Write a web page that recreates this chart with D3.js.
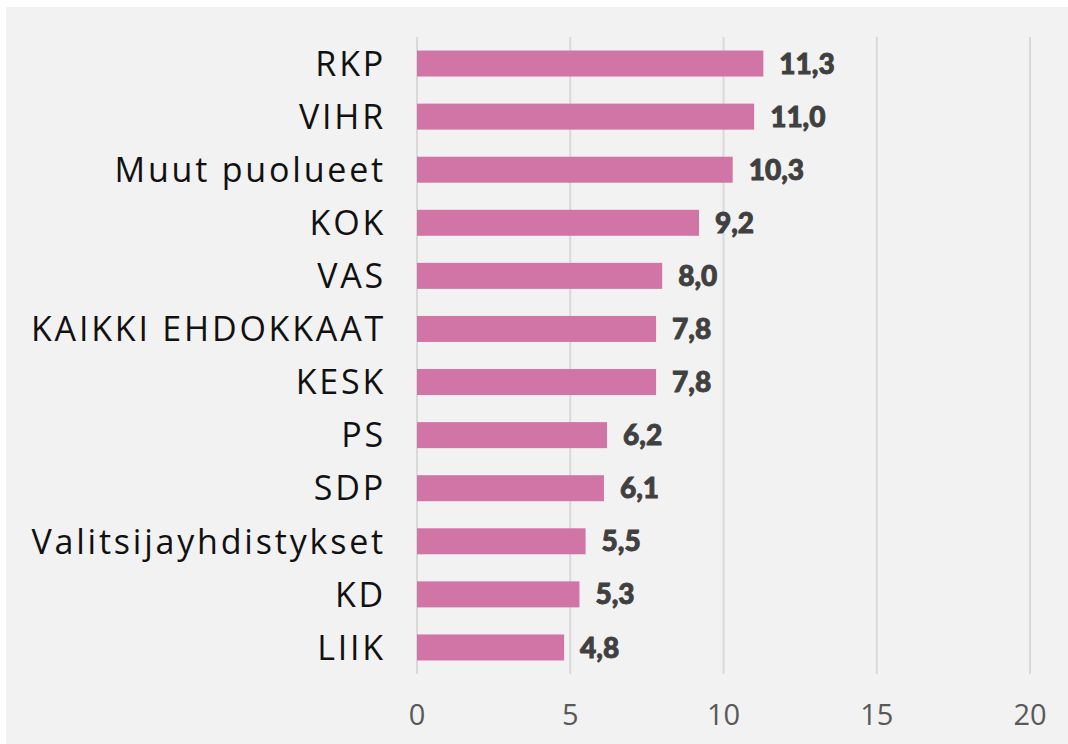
<!DOCTYPE html>
<html>
<head>
<meta charset="utf-8">
<script src="https://cdn.jsdelivr.net/npm/d3@7"></script>
<style>
  body { margin: 0; background: #ffffff; }
  svg { display: block; }
</style>
</head>
<body>
<svg width="1068" height="744"></svg>
<script>
// data
var parties = ["RKP", "VIHR", "Muut puolueet", "KOK", "VAS", "KAIKKI EHDOKKAAT", "KESK", "PS", "SDP", "Valitsijayhdistykset", "KD", "LIIK"];
var values = [11.3, 11.0, 10.3, 9.2, 8.0, 7.8, 7.8, 6.2, 6.1, 5.5, 5.3, 4.8];
var ticks = [0, 5, 10, 15, 20];

var svg = d3.select("svg"),
    width = +svg.attr("width"),
    height = +svg.attr("height");

// gray panel
svg.append("rect")
    .attr("x", 6).attr("y", 7)
    .attr("width", width - 6).attr("height", height - 7)
    .attr("fill", "#f2f2f2");

var x = d3.scaleLinear()
    .domain([0, 20])
    .range([417, 1030]);

var y = d3.scaleBand()
    .domain(parties)
    .range([37, 674])
    .paddingInner(0.51)
    .paddingOuter(0.255);

// gridlines
svg.append("g")
  .selectAll("line")
  .data(ticks)
  .enter()
  .append("line")
    .attr("x1", function(d){ return x(d) })
    .attr("x2", function(d){ return x(d) })
    .attr("y1", 37)
    .attr("y2", 674)
    .attr("stroke", "#d9d9d9")
    .attr("stroke-width", 2);

// bars
svg.append("g")
  .selectAll("rect")
  .data(values)
  .enter()
  .append("rect")
    .attr("x", x(0))
    .attr("y", function(d, i){ return y(parties[i]) })
    .attr("width", function(d){ return x(d) - x(0) })
    .attr("height", y.bandwidth())
    .attr("fill", "#d075a5");

// value labels
svg.append("g")
  .selectAll("text")
  .data(values)
  .enter()
  .append("text")
    .attr("x", function(d){ return x(d) + 16 })
    .attr("y", function(d, i){ return y(parties[i]) + y.bandwidth() / 2 })
    .attr("dy", "0.36em")
    .text(function(d){ return d.toFixed(1).replace(".", ",") })
    .style("font-family", "Lato, 'Open Sans', sans-serif")
    .style("font-weight", 900)
    .style("font-size", "28px")
    .style("fill", "#404040")
    .style("stroke", "#404040")
    .style("stroke-width", 0.9);

// category labels
svg.append("g")
  .selectAll("text")
  .data(parties)
  .enter()
  .append("text")
    .attr("x", 386)
    .attr("y", function(d){ return y(d) + y.bandwidth() / 2 })
    .attr("dy", "0.36em")
    .attr("text-anchor", "end")
    .text(function(d){ return d })
    .style("font-family", "'Open Sans', sans-serif")
    .style("font-size", "34px")
    .style("letter-spacing", "2.8px")
    .style("fill", "#111111");

// x axis tick labels
svg.append("g")
  .selectAll("text")
  .data(ticks)
  .enter()
  .append("text")
    .attr("x", function(d){ return x(d) })
    .attr("y", 715)
    .attr("dy", "0.36em")
    .attr("text-anchor", "middle")
    .text(function(d){ return d })
    .style("font-family", "'Open Sans', sans-serif")
    .style("font-size", "29px")
    .style("fill", "#595959");
</script>
</body>
</html>
